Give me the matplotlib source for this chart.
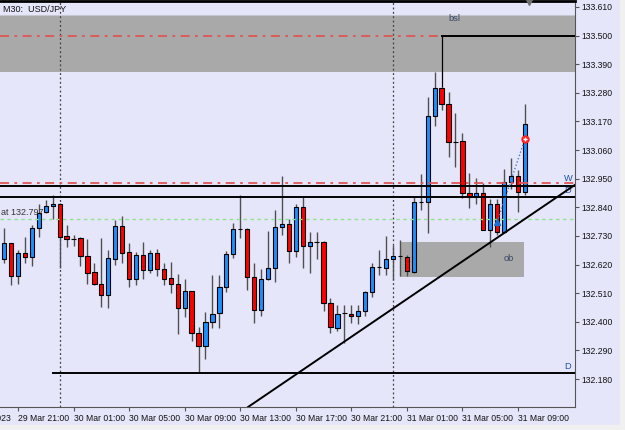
import matplotlib

matplotlib.use("Agg")  # headless
import matplotlib.pyplot as plt  # noqa: E402
from matplotlib.patches import Rectangle  # noqa: E402

plt.rcParams["font.family"] = ["Liberation Sans", "DejaVu Sans"]
FS = 6.2

# USD/JPY M30 candles, bar 0 = 29 Mar 20:00
opens = [132.641, 132.703, 132.576, 132.664, 132.649, 132.761, 132.822, 132.845,
         132.853, 132.730, 132.719, 132.722, 132.653, 132.591, 132.545, 132.503,
         132.641, 132.768, 132.668, 132.565, 132.657, 132.599, 132.664, 132.603,
         132.568, 132.545, 132.453, 132.518, 132.357, 132.307, 132.399, 132.434,
         132.534, 132.661, 132.757, 132.757, 132.572, 132.445, 132.565, 132.607,
         132.764, 132.776, 132.672, 132.841, 132.691, 132.707, 132.707, 132.472,
         132.376, 132.434, 132.430, 132.422, 132.442, 132.515, 132.611, 132.607,
         132.641, 132.653, 132.649, 132.591, 132.861, 132.861, 133.191, 133.299,
         133.237, 133.091, 133.095, 132.895, 132.880, 132.895, 132.753, 132.853,
         132.745, 132.937, 132.961, 132.899]
highs = [132.761, 132.703, 132.676, 132.726, 132.772, 132.853, 132.868, 132.887,
         132.857, 132.772, 132.734, 132.724, 132.718, 132.626, 132.722, 132.676,
         132.791, 132.807, 132.703, 132.668, 132.707, 132.676, 132.680, 132.626,
         132.630, 132.584, 132.565, 132.518, 132.380, 132.438, 132.580, 132.580,
         132.672, 132.780, 132.887, 132.760, 132.626, 132.603, 132.749, 132.830,
         132.961, 132.795, 132.853, 132.880, 132.745, 132.745, 132.709, 132.492,
         132.465, 132.465, 132.465, 132.465, 132.518, 132.626, 132.676, 132.730,
         132.695, 132.714, 132.657, 132.880, 132.968, 133.264, 133.360, 133.302,
         133.283, 133.203, 133.126, 132.972, 132.953, 132.934, 132.872, 132.872,
         132.987, 133.030, 132.984, 133.237]
lows = [132.626, 132.542, 132.545, 132.626, 132.614, 132.726, 132.818, 132.795,
        132.607, 132.688, 132.691, 132.614, 132.545, 132.540, 132.457, 132.453,
        132.618, 132.626, 132.534, 132.542, 132.565, 132.588, 132.576, 132.542,
        132.511, 132.353, 132.419, 132.326, 132.203, 132.257, 132.376, 132.376,
        132.515, 132.645, 132.722, 132.522, 132.395, 132.422, 132.561, 132.553,
        132.734, 132.626, 132.649, 132.607, 132.588, 132.641, 132.442, 132.357,
        132.365, 132.319, 132.395, 132.392, 132.422, 132.495, 132.580, 132.580,
        132.561, 132.576, 132.576, 132.588, 132.830, 132.741, 133.153, 133.214,
        133.034, 132.995, 132.876, 132.837, 132.853, 132.753, 132.688, 132.734,
        132.741, 132.911, 132.822, 132.887]
closes = [132.703, 132.576, 132.664, 132.649, 132.761, 132.818, 132.845, 132.853,
          132.726, 132.718, 132.717, 132.653, 132.588, 132.545, 132.503, 132.645,
          132.768, 132.664, 132.565, 132.657, 132.599, 132.664, 132.603, 132.565,
          132.545, 132.453, 132.518, 132.357, 132.307, 132.399, 132.430, 132.534,
          132.661, 132.757, 132.757, 132.572, 132.445, 132.565, 132.607, 132.764,
          132.776, 132.672, 132.841, 132.691, 132.707, 132.707, 132.472, 132.380,
          132.430, 132.434, 132.422, 132.442, 132.515, 132.611, 132.611, 132.641,
          132.653, 132.653, 132.595, 132.861, 132.861, 133.191, 133.299, 133.237,
          133.091, 133.091, 132.895, 132.880, 132.895, 132.753, 132.853, 132.745,
          132.937, 132.961, 132.899, 133.160]

price_ticks = [133.610, 133.500, 133.390, 133.280, 133.170, 133.060, 132.950,
               132.840, 132.730, 132.620, 132.510, 132.400, 132.290, 132.180]
time_tick_bars = [2, 10, 18, 26, 34, 42, 50, 58, 66, 74]
time_tick_labels = ["29 Mar 21:00", "30 Mar 01:00", "30 Mar 05:00", "30 Mar 09:00",
                    "30 Mar 13:00", "30 Mar 17:00", "30 Mar 21:00", "31 Mar 01:00",
                    "31 Mar 05:00", "31 Mar 09:00"]
first_label_bar, first_label = -6, "29 Mar 2023"
day_separators = [8, 56]

# drawn objects
zone_top, zone_bottom = 133.579, 133.362
bsl_level, bsl_bar, bsl_from = 133.500, 63, 133.302
red_levels = [133.500, 132.933]
black_levels = [132.922, 132.880]
green_level = 132.797
d_level, d_from_bar = 132.203, 7
ob_bars, ob_low, ob_high = (57, 74.9), 132.574, 132.708
trend_pts = [(49, 132.324), (71, 132.723)]
trade_open, trade_close = (71, 132.784), (75, 133.103)

BG = "#e6e6fa"
xmin, xmax = -0.59, 82.21
ymin, ymax = 132.0725, 133.633

fig = plt.figure(figsize=(6.25, 4.3), dpi=100, facecolor=BG)
fig.patches.append(Rectangle((620 / 625, 0), 5 / 625, 1, transform=fig.transFigure,
                             color="#f0f0f0", zorder=0))
fig.patches.append(Rectangle((0, 0), 1, 5 / 430, transform=fig.transFigure,
                             color="#f0f0f0", zorder=0))
ax = fig.add_axes([0, 23 / 430, 575 / 625, 406 / 430])
ax.set_facecolor(BG)
ax.set_xlim(xmin, xmax)
ax.set_ylim(ymin, ymax)

# background zones
ax.axhspan(zone_bottom, zone_top, color="#a9a9a9", lw=0, zorder=0)
ax.axhline(zone_top, color="#c6c6d0", lw=0.8, zorder=0.5)
ax.add_patch(Rectangle((ob_bars[0], ob_low), ob_bars[1] - ob_bars[0], ob_high - ob_low,
                       color="#a9a9a9", lw=0, zorder=1))

for b in day_separators:
    ax.axvline(b, color="#404040", lw=0.9, ls=(0, (1.5, 2)), zorder=1.5)

# candles
for i, (o, h, lo, c) in enumerate(zip(opens, highs, lows, closes)):
    ax.vlines(i, lo, h, color="#505050", lw=1.0, zorder=2)
    col = "#1e8fff" if c >= o else "#ff0000"
    ax.bar(i, abs(c - o), bottom=min(o, c), width=0.62, color=col,
           edgecolor="black", linewidth=0.8, zorder=3)

# lines
for lv in red_levels:
    ax.axhline(lv, color="#e05555", lw=1.3, dashes=(5, 3, 1.5, 3), zorder=4)
for lv in black_levels:
    ax.axhline(lv, color="black", lw=1.4, zorder=4)
ax.axhline(green_level, color="#8fe28f", lw=1.0, dashes=(2.5, 2.5), zorder=4)
ax.plot([bsl_bar, xmax], [bsl_level, bsl_level], color="black", lw=1.4, zorder=4)
ax.vlines(bsl_bar, bsl_from, bsl_level, color="black", lw=0.9, zorder=4)
ax.plot([d_from_bar, xmax], [d_level, d_level], color="black", lw=1.4, zorder=4)
ax.axline(trend_pts[0], trend_pts[1], color="black", lw=1.4, zorder=4)

# trade
ax.plot([trade_open[0], trade_close[0]], [trade_open[1], trade_close[1]],
        color="#3d7fe0", lw=1.0, ls=(0, (1, 1.5)), zorder=5)
ax.plot(*trade_open, marker="^", ms=5, color="#1e6fd0", zorder=6)
ax.plot(*trade_close, marker="o", ms=5, color="#ff2020", zorder=6)
ax.plot(*trade_close, marker="+", ms=3, mew=1, color="white", zorder=7)
ax.plot(75.6, ymax, marker="v", ms=6, color="#707070", clip_on=False, zorder=7)

# labels
ax.text(0.005, 0.99, "M30:  USD/JPY", transform=ax.transAxes, fontsize=FS + 0.3,
        ha="left", va="top", color="#111111")
ax.text(xmin + 0.1, green_level + 0.007, "at 132.797", fontsize=FS + 0.3, ha="left",
        va="bottom", color="#333333", zorder=6)
ax.text(64.8, 133.564, "bsl", fontsize=FS + 0.5, ha="center", va="center", color="#3a4868")
ax.text(72.6, 132.645, "ob", fontsize=FS + 0.5, ha="center", va="center", color="#3a4868")
ax.text(81.2, 132.950, "W", fontsize=FS + 0.5, ha="center", va="center", color="#1f4fa0")
ax.text(81.2, 132.905, "D", fontsize=FS + 0.5, ha="center", va="center", color="#1f4fa0",
        zorder=3.5)
ax.text(81.2, 132.228, "D", fontsize=FS + 0.5, ha="center", va="center", color="#1f4fa0")

# axes
ax.spines["left"].set_visible(False)
ax.spines["top"].set_color("black")
ax.spines["top"].set_linewidth(2)
ax.spines["right"].set_color("#555555")
ax.spines["bottom"].set_color("#555555")
ax.yaxis.tick_right()
ax.set_yticks(price_ticks)
ax.set_yticklabels([f"{p:.3f}" for p in price_ticks])
ax.set_xticks(time_tick_bars)
ax.set_xticklabels(time_tick_labels, ha="left")
ax.tick_params(axis="y", direction="out", length=3, pad=1.5, labelsize=FS,
               colors="#555555", labelcolor="#111111")
ax.tick_params(axis="x", direction="out", length=3, pad=2, labelsize=FS,
               colors="#555555", labelcolor="#111111")
ax.annotate(first_label, xy=(first_label_bar, 0), xycoords=("data", "axes fraction"),
            xytext=(0, -5), textcoords="offset points", ha="left", va="top",
            fontsize=FS, color="#111111", annotation_clip=False)

fig.savefig("out.png", dpi=100, facecolor=BG)
